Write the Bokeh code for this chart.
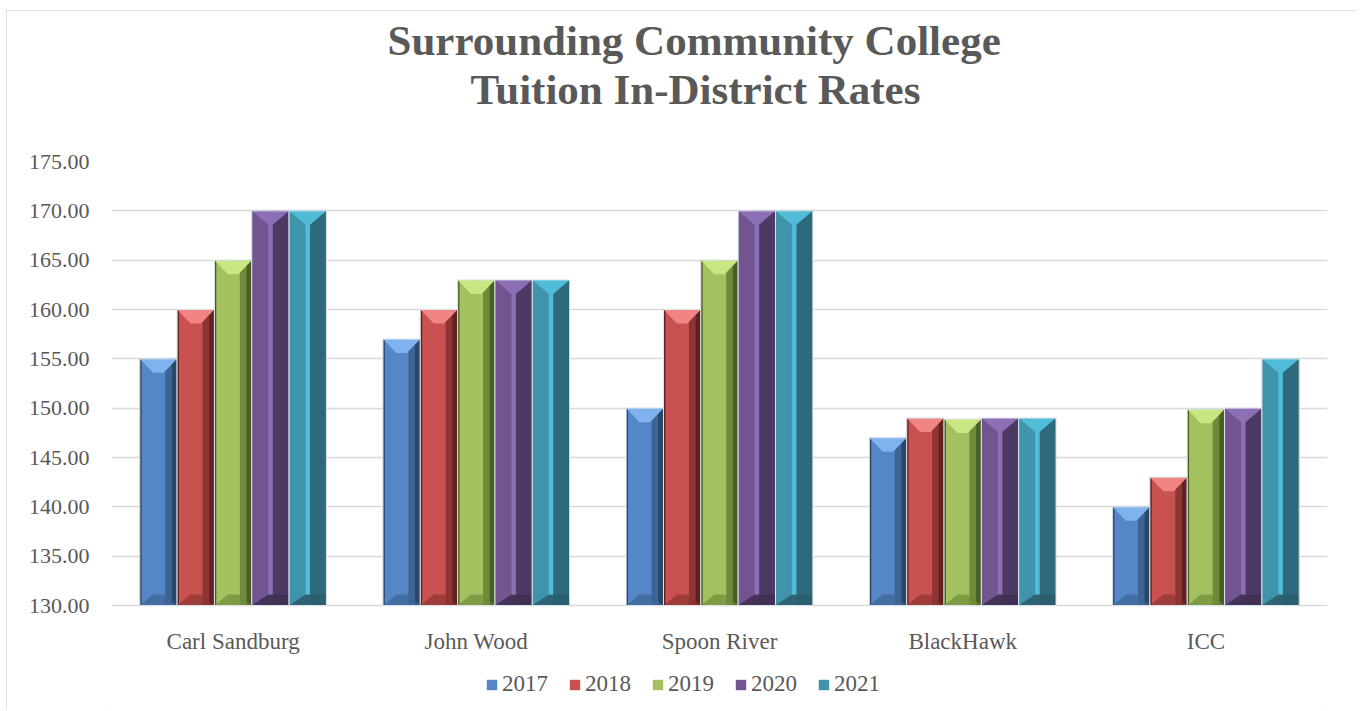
from bokeh.plotting import figure
from bokeh.models import (Range1d, FixedTicker, Legend, LegendItem, NumeralTickFormatter,
                          ColumnDataSource, Title, LinearAxis)
from bokeh.core.properties import value
from bokeh.embed import file_html
from bokeh.resources import INLINE

# ---------------- data ----------------
colleges = ["Carl Sandburg", "John Wood", "Spoon River", "BlackHawk", "ICC"]
years = ["2017", "2018", "2019", "2020", "2021"]
rate_2017 = [155.0, 157.0, 150.0, 147.0, 140.0]
rate_2018 = [160.0, 160.0, 160.0, 149.0, 143.0]
rate_2019 = [165.0, 163.0, 165.0, 148.9, 149.9]
rate_2020 = [170.0, 163.0, 170.0, 149.0, 150.0]
rate_2021 = [170.0, 163.0, 170.0, 149.0, 155.0]
series = [rate_2017, rate_2018, rate_2019, rate_2020, rate_2021]
y_ticks = [130, 135, 140, 145, 150, 155, 160, 165, 170, 175]
title_lines = ["Surrounding Community College", "Tuition In-District Rates"]

# ---------------- styles ----------------
face = ["#5587c8", "#c9514f", "#a3c25f", "#715490", "#3f93ab"]
light = ["#80b2f0", "#f08583", "#c8e783", "#8c6fb4", "#50bcd8"]
shade = ["#3c6494", "#8d3533", "#6f8a39", "#4d3a64", "#2e6a7b"]
deep = ["#2a4668", "#5e2220", "#4a5d24", "#3f3052", "#2b5e6c"]
split_style = [False, False, False, True, True]   # purple / teal bars use split bevel
TEXT = "#595959"
FONT = "Liberation Serif"

BASE = 130.0
TOP = 175.0
W, H = 1350, 700
TOP_BORDER = 151
AXIS_PX = 444                      # pixel height of the 130..175 span
frame_h = H - TOP_BORDER
y_lo = TOP - (TOP - BASE) * frame_h / AXIS_PX   # frame continues below 130 for labels/legend
bar_w = 0.1535          # data units (category width = 1)
px_y = (TOP - BASE) / AXIS_PX
bev = 14 * px_y         # top bevel depth
bev_b = 11 * px_y       # bottom bevel depth

p = figure(width=W, height=H, x_range=Range1d(0, 5), y_range=Range1d(y_lo, TOP),
           output_backend="svg", toolbar_location=None, x_axis_location=None,
           min_border_left=105, min_border_right=29, min_border_top=TOP_BORDER,
           min_border_bottom=0, outline_line_color=None,
           background_fill_color="white", border_fill_color="white")
p.styles = {"outline": "2px solid #d9d9d9", "outline-offset": "-2px",
            "margin-left": "6px", "margin-top": "10px"}

yaxis = p.yaxis[0]

legend_items = []
for j, vals in enumerate(series):
    centers = [i + 0.5 + (j - 2) * bar_w for i in range(len(colleges))]
    x0 = [c - bar_w / 2 for c in centers]
    x1 = [c + bar_w / 2 for c in centers]
    src = ColumnDataSource(dict(x=centers, top=vals))
    main = p.vbar(x="x", top="top", bottom=BASE, width=bar_w, source=src,
                  fill_color=face[j], line_color=None)
    legend_items.append(LegendItem(label=years[j], renderers=[main]))

    polys = {"shade": ([], []), "deep": ([], []), "light": ([], []), "bottom": ([], [])}
    for a, b, c, v in zip(x0, x1, centers, vals):
        w = b - a
        if split_style[j]:
            polys["shade"][0].append([c + 0.06 * w, b, b, c + 0.06 * w])
            polys["shade"][1].append([BASE, BASE, v, v])
            polys["light"][0].append([c - 0.06 * w, c + 0.06 * w, c + 0.06 * w, c - 0.06 * w])
            polys["light"][1].append([BASE + bev_b, BASE + bev_b, v, v])
            polys["light"][0].append([a, b, c + 0.06 * w, c - 0.06 * w])
            polys["light"][1].append([v, v, v - bev, v - bev])
            polys["bottom"][0].append([a, b, b, c - 0.06 * w])
            polys["bottom"][1].append([BASE, BASE, BASE + bev_b, BASE + bev_b])
        else:
            polys["shade"][0].append([a + 0.68 * w, b, b, a + 0.68 * w])
            polys["shade"][1].append([BASE, BASE, v, v])
            polys["deep"][0].append([a + 0.86 * w, b, b, a + 0.86 * w])
            polys["deep"][1].append([BASE, BASE, v, v])
            polys["deep"][0].append([a, a + 0.05 * w, a + 0.05 * w, a])
            polys["deep"][1].append([BASE, BASE, v, v])
            polys["light"][0].append([a, b, b - 0.36 * w, a + 0.36 * w])
            polys["light"][1].append([v, v, v - bev, v - bev])
            polys["bottom"][0].append([a, b, b - 0.36 * w, a + 0.36 * w])
            polys["bottom"][1].append([BASE, BASE, BASE + bev_b, BASE + bev_b])
    p.patches(polys["shade"][0], polys["shade"][1], fill_color=shade[j], line_color=None)
    if polys["deep"][0]:
        p.patches(polys["deep"][0], polys["deep"][1], fill_color=deep[j], line_color=None)
    p.patches(polys["bottom"][0], polys["bottom"][1],
              fill_color=deep[j] if split_style[j] else shade[j], line_color=None,
              fill_alpha=0.9 if split_style[j] else 0.7)
    p.patches(polys["light"][0], polys["light"][1], fill_color=light[j], line_color=None)
    p.vbar(x="x", top="top", bottom=BASE, width=bar_w, source=src,
           fill_color=None, line_color="#dde3ea", line_width=1)

# category labels under the 130 line
p.text(x=[i + 0.5 for i in range(len(colleges))], y=[BASE] * len(colleges), text=colleges,
       text_align="center", text_baseline="alphabetic", y_offset=36,
       text_font=value(FONT), text_font_size="23px", text_color=TEXT)

# y axis
yaxis.ticker = FixedTicker(ticks=y_ticks)
yaxis.formatter = NumeralTickFormatter(format="0.00")
yaxis.major_label_text_font = FONT
yaxis.major_label_text_color = TEXT
yaxis.major_label_text_font_size = "22px"
yaxis.major_tick_line_color = None
yaxis.minor_tick_line_color = None
yaxis.major_tick_out = 0
yaxis.major_tick_in = 0
yaxis.minor_tick_out = 0
yaxis.minor_tick_in = 0
yaxis.axis_line_color = None
yaxis.major_label_standoff = 22
p.xgrid.grid_line_color = None
p.ygrid.ticker = FixedTicker(ticks=y_ticks)
p.ygrid.grid_line_color = "#d9d9d9"
p.ygrid.grid_line_width = 1.5


def spacer(size):
    # an axis with one blank label, used only to reserve blank space above the plot
    return LinearAxis(ticker=FixedTicker(ticks=[2.5]), major_label_overrides={2.5: ""},
                      axis_line_color=None, major_label_text_font_size="1px",
                      major_tick_out=size, major_tick_in=0, major_tick_line_alpha=0,
                      minor_tick_out=0, minor_tick_in=0, minor_tick_line_alpha=0,
                      major_label_standoff=0)


# title: spacer, then second line, then first line above it
p.title = None
p.add_layout(spacer(49), "above")
t2 = Title(text=title_lines[1], align="left", offset=359, standoff=0,
           text_font_size="43px", text_font=FONT, text_font_style="bold", text_color=TEXT)
t1 = Title(text=title_lines[0], align="left", offset=276, standoff=0,
           text_font_size="43px", text_font=FONT, text_font_style="bold", text_color=TEXT)
p.add_layout(t2, "above")
p.add_layout(t1, "above")

legend = Legend(items=legend_items, orientation="horizontal", location=(374, 13),
                glyph_width=13, glyph_height=13, label_standoff=4, spacing=20,
                padding=0, margin=0, border_line_color=None, background_fill_alpha=0,
                label_text_font=FONT, label_text_font_size="23px", label_text_color=TEXT)
p.add_layout(legend, "center")

open("out.html", "w").write(file_html(p, INLINE))
